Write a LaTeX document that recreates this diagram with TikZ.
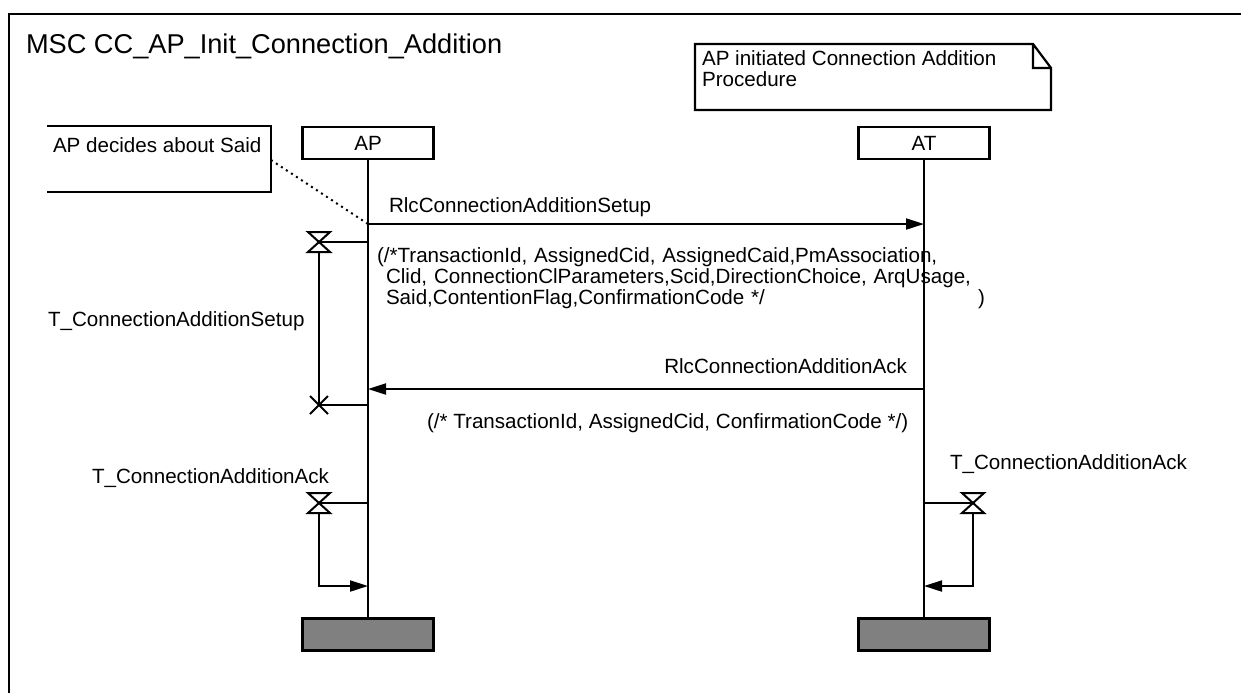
\documentclass[tikz,border=0pt]{standalone}
\usepackage{fontspec}
\setmainfont{Liberation Sans}
\usetikzlibrary{arrows.meta,positioning,calc}
\newcommand{\msctext}{\fontsize{10.3pt}{9.5pt}\selectfont}
\newcommand{\msctitle}{\fontsize{13.6pt}{16pt}\selectfont}
\newcommand{\mscnote}{\fontsize{10.3pt}{10.5pt}\selectfont}
\tikzset{
  inst/.style={draw,line width=1.1pt,minimum width=65.5pt,minimum height=16pt,inner sep=0pt},
  instend/.style={inst,fill=gray},
  life/.style={line width=1pt},
  msg/.style={-{Triangle[length=9pt,width=5.5pt]},line width=1pt},
  txt/.style={anchor=base west,inner sep=0pt,outer sep=0pt},
  tline/.style={line width=1pt},
  notebox/.style={line width=1.1pt},
  tset/.pic={\draw[line width=1pt,fill=white] (-11,-10) -- (11,-10) -- (-11,10) -- (11,10) -- cycle;},
  tout/.pic={\draw[line width=1pt] (-9,-9) -- (9,9) (-9,9) -- (9,-9);}
}

\begin{document}
\begin{tikzpicture}[x=0.5pt,y=-0.5pt,font=\msctext]
  \useasboundingbox (0,0) rectangle (1241,693);
  % frame and title
  \draw[line width=1pt] (9,693) |- (1241,14);
  \node[txt,font=\msctitle] (title) at (26,53) {MSC CC\_AP\_Init\_Connection\_Addition};

  % notes
  \node[txt,align=left,font=\mscnote] (procnote) at (702,86) {AP initiated Connection Addition\\Procedure};
  \draw[notebox] (695,44) -- (1033,44) -- (1051,68) -- (1051,110) -- (695,110) -- cycle
    (1033,44) -- (1033,68) -- (1051,68);
  \node[txt] (saidnote) at (53,152) {AP decides about Said};
  \draw[notebox] (47,126) -- (271,126) -- (271,192) -- (47,192);
  \coordinate (saidtip) at (271,160);

  % instances
  \node[inst] (ap) at (368,143) {AP};
  \node[inst] (at) at (924,143) {AT};
  \node[instend] (apend) at (368,634.5) {};
  \node[instend] (atend) at (924,634.5) {};
  \draw[life] (ap) -- (apend);
  \draw[life] (at) -- (atend);

  % setup message
  \path (ap |- 0,224) coordinate (setupout) (at |- 0,224) coordinate (setupin);
  \draw[msg] (setupout) -- (setupin);
  \draw[dotted,line width=1pt] (saidtip) -- (setupout);
  \node[txt] (setuplbl) at (389,212) {RlcConnectionAdditionSetup};
  \node[txt,text width=304pt,align=left] (setuppar) at (377,262)
    {(/*TransactionId, AssignedCid, AssignedCaid,PmAssociation,\\
     \hspace*{4.5pt}Clid, ConnectionClParameters,Scid,DirectionChoice, ArqUsage,\\
     \hspace*{4.5pt}Said,ContentionFlag,ConfirmationCode */\hfill)};

  % ack message
  \path (at |- 0,389) coordinate (ackout) (ap |- 0,389) coordinate (ackin);
  \draw[msg] (ackout) -- (ackin);
  \node[txt,anchor=base east] (acklbl) at (907,373) {RlcConnectionAdditionAck};
  \node[txt] (ackpar) at (427,428) {(/* TransactionId, AssignedCid, ConfirmationCode */)};

  % timer setup
  \coordinate (tsetup) at (319,242);
  \coordinate (tsetupend) at (319,405);
  \draw[tline] (tsetup) -- (tsetup -| ap);
  \draw[tline] (tsetup) -- (tsetupend) -- (tsetupend -| ap);
  \pic at (tsetup) {tset};
  \pic at (tsetupend) {tout};
  \node[txt] (tsetuplbl) at (48,326) {T\_ConnectionAdditionSetup};

  % timer ack, AP side
  \coordinate (tackap) at (319,503);
  \coordinate (tackapend) at (319,586);
  \draw[tline] (tackap) -- (tackap -| ap);
  \draw[msg] (tackap) -- (tackapend) -- (tackapend -| ap);
  \pic at (tackap) {tset};
  \node[txt] (tackaplbl) at (92,483) {T\_ConnectionAdditionAck};

  % timer ack, AT side
  \coordinate (tackat) at (973,503);
  \coordinate (tackatend) at (973,586);
  \draw[tline] (tackat) -- (tackat -| at);
  \draw[msg] (tackat) -- (tackatend) -- (tackatend -| at);
  \pic at (tackat) {tset};
  \node[txt] (tackatlbl) at (950,469) {T\_ConnectionAdditionAck};
\end{tikzpicture}
\end{document}
